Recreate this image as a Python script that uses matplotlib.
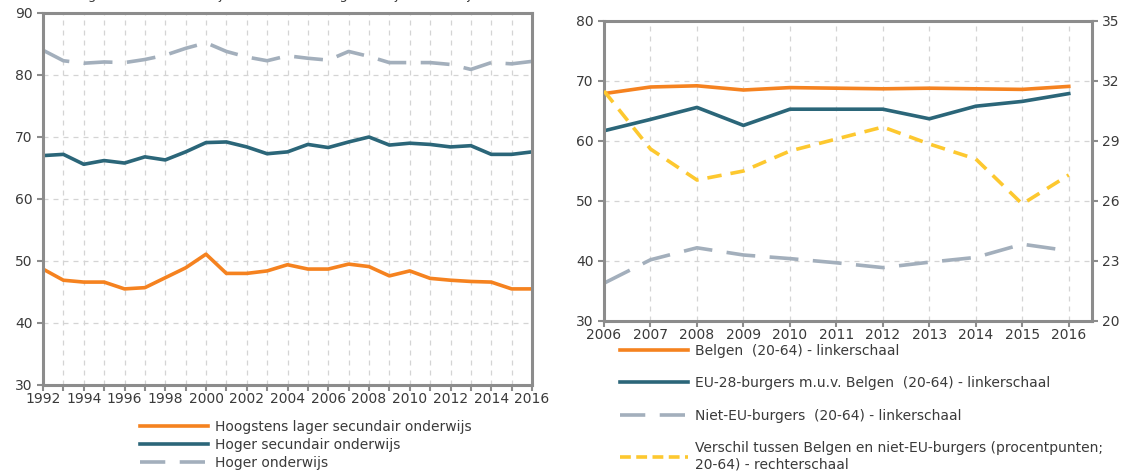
import matplotlib
matplotlib.use('Agg')
import matplotlib.pyplot as plt
from matplotlib.ticker import MultipleLocator, FixedLocator
from matplotlib.lines import Line2D

# left chart: werkzaamheidsgraad per onderwijsniveau
years_left = list(range(1992, 2017))
laag = [48.7, 46.9, 46.6, 46.6, 45.5, 45.7, 47.3, 48.9, 51.1, 48.0, 48.0, 48.4, 49.4,
        48.7, 48.7, 49.5, 49.1, 47.6, 48.4, 47.2, 46.9, 46.7, 46.6, 45.5, 45.5]
midden = [67.0, 67.2, 65.6, 66.2, 65.8, 66.8, 66.3, 67.6, 69.1, 69.2, 68.4, 67.3, 67.6,
          68.8, 68.3, 69.2, 70.0, 68.7, 69.0, 68.8, 68.4, 68.6, 67.2, 67.2, 67.6]
hoog = [84.0, 82.3, 81.9, 82.1, 82.0, 82.5, 83.2, 84.3, 85.2, 83.8, 82.9, 82.3, 83.1,
        82.7, 82.4, 83.8, 83.0, 82.0, 82.0, 82.0, 81.7, 80.9, 82.0, 81.8, 82.2]
labels_left = ['Hoogstens lager secundair onderwijs', 'Hoger secundair onderwijs',
               'Hoger onderwijs']

# right chart: werkzaamheidsgraad naar nationaliteit
years_right = list(range(2006, 2017))
belgen = [67.9, 69.0, 69.2, 68.5, 68.9, 68.8, 68.7, 68.8, 68.7, 68.6, 69.1]
eu28 = [61.7, 63.6, 65.6, 62.6, 65.3, 65.3, 65.3, 63.7, 65.8, 66.6, 67.9]
niet_eu = [36.3, 40.2, 42.2, 41.0, 40.4, 39.7, 38.9, 39.8, 40.6, 42.8, 41.7]
verschil = [31.5, 28.6, 27.05, 27.5, 28.5, 29.1, 29.7, 28.85, 28.1, 25.85, 27.3]
right_ticks = [20, 23, 26, 29, 32, 35]
labels_right = ['Belgen  (20-64) - linkerschaal',
                'EU-28-burgers m.u.v. Belgen  (20-64) - linkerschaal',
                'Niet-EU-burgers  (20-64) - linkerschaal',
                'Verschil tussen Belgen en niet-EU-burgers (procentpunten;\n20-64) - rechterschaal']

ORANGE = '#f5821f'
TEAL = '#2b6679'
GREY = '#a3afbc'
YELLOW = '#fdc82f'
SPINE = '#8c8c8c'
TXT = '#3a3a3a'

plt.rcParams['font.family'] = ['DejaVu Sans']
plt.rcParams['font.size'] = 10

fig = plt.figure(figsize=(11.25, 4.72), dpi=100)
W, H = 1125.0, 472.0


def px_axes(l, t, r, b):
    return fig.add_axes([l / W, 1 - b / H, (r - l) / W, (b - t) / H])


def style(ax):
    for s in ax.spines.values():
        s.set_color(SPINE)
        s.set_linewidth(2.2)
    ax.tick_params(colors=SPINE, labelcolor=TXT, labelsize=10, length=4, width=1.5)
    ax.grid(True, which='both', color='#d4d4d4', linestyle=(0, (4, 4)), linewidth=0.9)
    ax.set_axisbelow(True)


# ---- left chart
ax1 = px_axes(43, 13, 532, 385)
ax1.plot(years_left, laag, color=ORANGE, lw=2.6, solid_capstyle='round')
ax1.plot(years_left, midden, color=TEAL, lw=2.6, solid_capstyle='round')
ax1.plot(years_left, hoog, color=GREY, lw=2.6, dashes=(8, 4))
ax1.set_xlim(1992, 2016)
ax1.set_ylim(30, 90)
ax1.xaxis.set_major_locator(MultipleLocator(2))
ax1.xaxis.set_minor_locator(MultipleLocator(1))
ax1.yaxis.set_major_locator(MultipleLocator(10))
style(ax1)
ax1.tick_params(axis='x', which='both', pad=1)
ax1.tick_params(axis='x', which='minor', length=4, width=1.5, color=SPINE)

# title of the original is cut off by the top edge, only descenders remain
fig.text(532 / W, 1 + 1.0 / H,
         'Werkzaamheidsgraad naar onderwijsniveau, bevolking 25-64 jaar (in %, jaarbasis)',
         ha='right', va='baseline', fontsize=9.5, color=TXT)

h_left = [Line2D([], [], color=ORANGE, lw=2.6),
          Line2D([], [], color=TEAL, lw=2.6),
          Line2D([], [], color=GREY, lw=2.6, dashes=(7, 4))]
fig.legend(h_left, labels_left, loc='upper left', bbox_to_anchor=(140 / W, 1 - 420 / H),
           frameon=False, fontsize=10, handlelength=4.9, handletextpad=0.5,
           labelspacing=0.28, borderpad=0, borderaxespad=0, labelcolor=TXT)

# ---- right chart
ax2 = px_axes(604, 21, 1092, 321)
ax2.plot(years_right, belgen, color=ORANGE, lw=2.6)
ax2.plot(years_right, eu28, color=TEAL, lw=2.6)
ax2.plot(years_right, niet_eu, color=GREY, lw=2.6, dashes=(8, 4))
ax2.set_xlim(2006, 2016.5)
ax2.set_ylim(30, 80)
ax2.xaxis.set_major_locator(MultipleLocator(1))
ax2.yaxis.set_major_locator(MultipleLocator(10))
style(ax2)
ax2.tick_params(axis='x', pad=1)

ax3 = ax2.twinx()
ax3.plot(years_right, verschil, color=YELLOW, lw=2.6, dashes=(4, 2.5))
ax3.set_ylim(20, 35)
ax3.yaxis.set_major_locator(FixedLocator(right_ticks))
for s in ax3.spines.values():
    s.set_visible(False)
ax3.tick_params(colors=SPINE, labelcolor=TXT, labelsize=10, length=4, width=1.5)

h_right = [Line2D([], [], color=ORANGE, lw=2.6),
           Line2D([], [], color=TEAL, lw=2.6),
           Line2D([], [], color=GREY, lw=2.6, dashes=(7, 4)),
           Line2D([], [], color=YELLOW, lw=2.6, dashes=(3, 1.5))]
fig.legend(h_right, labels_right, loc='upper left', bbox_to_anchor=(620 / W, 1 - 344 / H),
           frameon=False, fontsize=10, handlelength=4.9, handletextpad=0.5,
           labelspacing=1.32, borderpad=0, borderaxespad=0, labelcolor=TXT)

fig.savefig('out.png', dpi=100)
